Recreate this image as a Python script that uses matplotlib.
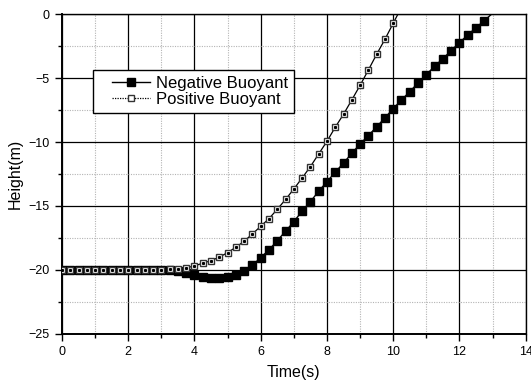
import numpy as np
import matplotlib.pyplot as plt
from matplotlib.lines import Line2D
from matplotlib.legend_handler import HandlerLine2D
from matplotlib.ticker import MultipleLocator

plt.rcParams['font.family'] = ['Liberation Sans', 'DejaVu Sans']

# time samples, 0.25 s apart
time_neg = np.arange(0, 13.01, 0.25)
time_pos = np.arange(0, 10.26, 0.25)

# depth of the body below the surface (m)
height_neg = [-20.0] * 14 + [
    -20.09, -20.27, -20.42, -20.58, -20.66, -20.66, -20.60, -20.42, -20.09, -19.64,
    -19.04, -18.44, -17.71, -16.98, -16.23, -15.40, -14.66, -13.85, -13.10, -12.36,
    -11.64, -10.88, -10.15, -9.50, -8.80, -8.11, -7.38, -6.71, -6.05, -5.38,
    -4.72, -4.07, -3.47, -2.85, -2.22, -1.62, -1.05, -0.50, 0.08]
height_pos = [-20.0] * 13 + [-19.97] + [
    -19.95, -19.85, -19.69, -19.48, -19.28, -19.01, -18.65, -18.23, -17.76, -17.19,
    -16.59, -15.99, -15.26, -14.49, -13.67, -12.81, -11.92, -10.93, -9.94, -8.84,
    -7.82, -6.70, -5.56, -4.36, -3.13, -1.96, -0.70, 0.55]


class IndentedLine(HandlerLine2D):
    # leaves some blank room in front of the legend sample
    def create_artists(self, legend, orig_handle, xdescent, ydescent,
                       width, height, fontsize, trans):
        shift = 9
        return super().create_artists(legend, orig_handle, xdescent - shift, ydescent,
                                      width - shift, height, fontsize, trans)


fig = plt.figure(figsize=(5.31, 3.83), dpi=100)
ax = fig.add_axes([0.1168, 0.1287, 0.8732, 0.834])

# last sample lies above the surface, so no marker there
ax.plot(time_neg, height_neg, '-', color='black', lw=1.0, marker='s', ms=5.6,
        mfc='black', mec='black', markevery=list(range(len(time_neg) - 1)), zorder=3)
ax.plot(time_pos, height_pos, '-', color='black', lw=0.9, marker='s', ms=5.0,
        mfc='white', mec='#333333', mew=1.0, markevery=list(range(len(time_pos) - 1)), zorder=4)
ax.plot(time_pos[:-1], height_pos[:-1], ls='none', marker='s', ms=1.2,
        mfc='black', mec='black', zorder=5)

ax.set_xlim(0, 14)
ax.set_ylim(-25, 0)
ax.xaxis.set_major_locator(MultipleLocator(2))
ax.xaxis.set_minor_locator(MultipleLocator(1))
ax.yaxis.set_major_locator(MultipleLocator(5))
ax.yaxis.set_minor_locator(MultipleLocator(2.5))

ax.grid(which='major', color='black', lw=0.9, ls='-')
ax.grid(which='minor', color='#b4b4b4', lw=0.8, ls=(0, (1, 1.2)))
ax.set_axisbelow(True)

ax.tick_params(which='major', direction='out', length=5, width=1, labelsize=9, pad=4)
ax.tick_params(which='minor', direction='out', length=3, width=1)
for side in ['left', 'bottom', 'top', 'right']:
    ax.spines[side].set_linewidth(1.0)
ax.spines['left'].set_linewidth(1.4)
ax.spines['bottom'].set_linewidth(1.4)

ax.set_xlabel('Time(s)', fontsize=11.5, labelpad=5)
ax.set_ylabel('Height(m)', fontsize=11.5, labelpad=4)

handles = [
    Line2D([], [], color='black', lw=1.0, marker='s', ms=5.6, mfc='black', mec='black'),
    Line2D([], [], color='black', lw=0.9, ls=(0, (1, 1)), marker='s', ms=5.0,
           mfc='white', mec='#333333'),
]
leg = ax.legend(handles, ['Negative Buoyant', 'Positive Buoyant'], loc='upper left',
                bbox_to_anchor=(0.067, 0.826), borderaxespad=0, fontsize=12,
                handlelength=3.05, handletextpad=0.36, labelspacing=0.08,
                borderpad=0.36, fancybox=False, framealpha=1, edgecolor='black',
                handler_map={Line2D: IndentedLine()})
leg.get_frame().set_linewidth(1.0)

fig.savefig('out.png', dpi=100)
